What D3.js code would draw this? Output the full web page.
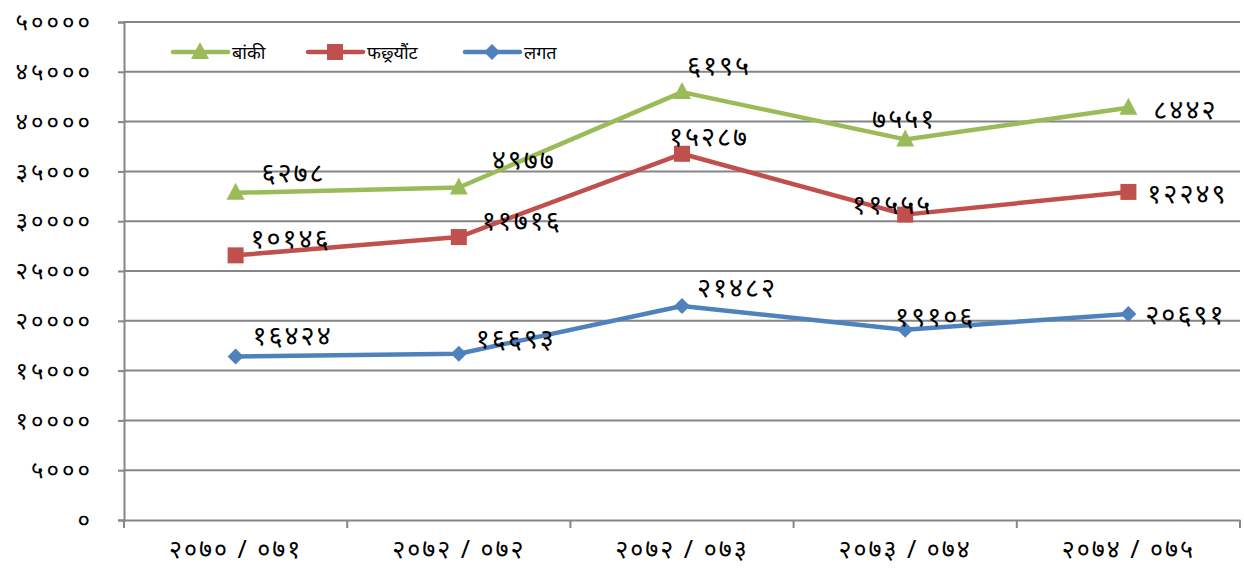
<!DOCTYPE html>
<html><head><meta charset="utf-8">
<script src="https://cdn.jsdelivr.net/npm/d3@7"></script>
<style>
html,body{margin:0;padding:0;background:#fff;}
text{font-family:"Noto Sans","Noto Sans Devanagari",sans-serif;fill:#000;}
</style></head>
<body>
<svg id="chart" width="1244" height="573"></svg>
<script>
// ---- data ----
const categories = ["२०७०/०७१","२०७२/०७२","२०७२/०७३","२०७३/०७४","२०७४/०७५"];
const seriesNames = ["बांकी","फछ्र्यौंट","लगत"];
// component values (stacked: लगत, then फछ्र्यौंट, then बांकी)
const lagat     = [16424, 16693, 21482, 19106, 20691];
const fachhyaut = [10146, 11716, 15287, 11555, 12249];
const banki     = [6278, 4977, 6195, 7551, 8442];
const yTicks = [0,5000,10000,15000,20000,25000,30000,35000,40000,45000,50000];

(function(){
// ---- helpers ----
const devDigits = "०१२३४५६७८९";
const toDev = n => String(n).replace(/[0-9]/g, d => devDigits[+d]);

// ---- layout ----
const svg = d3.select("#chart");
const mLeft = 124, mRight = 1240, mTop = 22, mBottom = 520;
const x = d3.scaleBand().domain(categories).range([mLeft, mRight]).padding(0);
const y = d3.scaleLinear().domain([0, 50000]).range([mBottom, mTop]);
const cx = c => x(c) + x.bandwidth()/2;

// stacked totals
const blueVals = lagat;
const redVals = lagat.map((v,i) => v + fachhyaut[i]);
const greenVals = redVals.map((v,i) => v + banki[i]);

const series = [
  {name: seriesNames[2], vals: blueVals, labels: lagat, color: "#4F81BD", marker: "diamond"},
  {name: seriesNames[1], vals: redVals, labels: fachhyaut, color: "#C0504D", marker: "square"},
  {name: seriesNames[0], vals: greenVals, labels: banki, color: "#9BBB59", marker: "triangle"}
];
// manual label nudges (layout, relative to the point: [dx of label centre, dy of label centre])
const nudges = {
  "diamond":  [[57,-22],[57,-16],[55,-20],[30,-14],[57,0]],
  "square":   [[55,-18],[63,-18],[27,-18],[-13,-11],[59,1]],
  "triangle": [[58,-21],[65,-29],[37,-28],[-1,-22],[57,1]]
};

// gridlines
svg.append("g").selectAll("line").data(yTicks.filter(t => t > 0)).join("line")
  .attr("x1", mLeft).attr("x2", mRight)
  .attr("y1", d => y(d)).attr("y2", d => y(d))
  .attr("stroke", "#868686").attr("stroke-width", 2);

// y axis
const yAxis = svg.append("g").attr("transform", `translate(${mLeft},0)`)
  .call(d3.axisLeft(y).tickValues(yTicks).tickSize(6).tickPadding(25).tickFormat(toDev));
yAxis.select(".domain").attr("stroke", "#868686").attr("stroke-width", 2);
yAxis.selectAll(".tick line").attr("stroke", "#868686").attr("stroke-width", 2);
yAxis.selectAll("text").attr("font-size", 24).attr("letter-spacing", "3px").attr("fill", "#000");

// x axis
const xAxis = svg.append("g").attr("transform", `translate(0,${mBottom})`)
  .call(d3.axisBottom(x).tickSize(0).tickPadding(20).tickFormat(d => d.replace("/", " / ")));
xAxis.select(".domain").attr("stroke", "#868686").attr("stroke-width", 2);
xAxis.selectAll("text").attr("font-size", 25).attr("letter-spacing", "2px").attr("fill", "#000");
// tick marks at category boundaries
const bounds = categories.map(c => x(c)).concat([mRight]);
svg.append("g").selectAll("line").data(bounds).join("line")
  .attr("x1", d => d).attr("x2", d => d)
  .attr("y1", mBottom).attr("y2", mBottom + 8)
  .attr("stroke", "#868686").attr("stroke-width", 2);

function drawMarker(g, type, color, px, py) {
  if (type === "square") {
    g.append("rect").attr("x", px-8).attr("y", py-8).attr("width", 16).attr("height", 16).attr("fill", color);
  } else if (type === "diamond") {
    g.append("path").attr("d", "M0,-8L8,0L0,8L-8,0Z").attr("transform", `translate(${px},${py})`).attr("fill", color);
  } else {
    g.append("path").attr("d", "M0,-10L9,7L-9,7Z").attr("transform", `translate(${px},${py})`).attr("fill", color);
  }
}

const line = d3.line().x((d,i) => cx(categories[i])).y(d => y(d));
series.forEach(s => {
  const g = svg.append("g");
  g.append("path").datum(s.vals).attr("d", line)
    .attr("fill", "none").attr("stroke", s.color).attr("stroke-width", 4.5).attr("stroke-linejoin", "round");
  s.vals.forEach((v,i) => drawMarker(g, s.marker, s.color, cx(categories[i]), y(v)));
});
// labels
series.forEach(s => {
  const g = svg.append("g");
  s.vals.forEach((v,i) => {
    const n = nudges[s.marker][i];
    g.append("text").attr("x", cx(categories[i]) + n[0]).attr("y", y(v) + n[1])
      .attr("text-anchor", "middle").attr("dominant-baseline", "central")
      .attr("font-size", 27).attr("letter-spacing", "2px").text(toDev(s.labels[i]));
  });
});

// legend
const legendItems = [
  {name: seriesNames[0], color: "#9BBB59", marker: "triangle", x0: 173},
  {name: seriesNames[1], color: "#C0504D", marker: "square", x0: 308},
  {name: seriesNames[2], color: "#4F81BD", marker: "diamond", x0: 465}
];
const lg = svg.append("g");
legendItems.forEach(it => {
  lg.append("line").attr("x1", it.x0).attr("x2", it.x0 + 55).attr("y1", 52).attr("y2", 52)
    .attr("stroke", it.color).attr("stroke-width", 4.5).attr("stroke-linecap", "round");
  drawMarker(lg, it.marker, it.color, it.x0 + 27, 52);
  lg.append("text").attr("x", it.x0 + 59).attr("y", 52).attr("dominant-baseline", "central")
    .attr("font-size", 18).text(it.name);
});
})();
</script>
</body></html>
